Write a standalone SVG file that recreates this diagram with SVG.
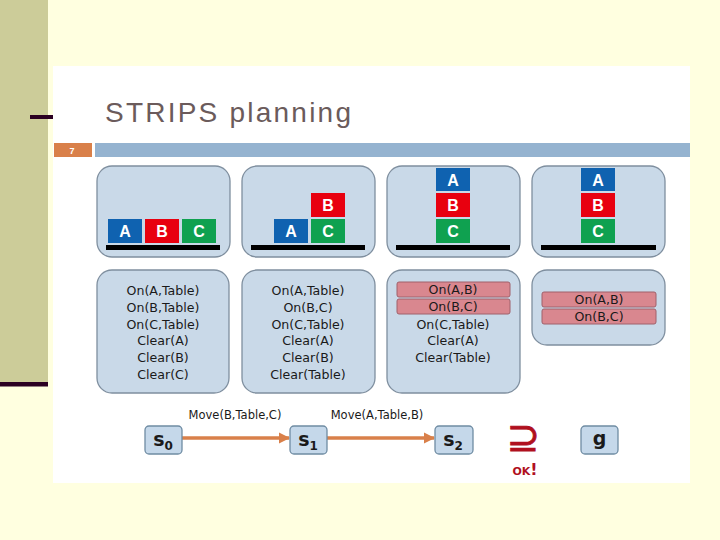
<svg xmlns="http://www.w3.org/2000/svg" width="720" height="540" viewBox="0 0 720 540">
<defs>
<style>
.panel{fill:#c9d9e8;stroke:#7f8f9f;stroke-width:1.3}
.blk{stroke:none}
.bA{fill:#0f62b0}.bB{fill:#e8000f}.bC{fill:#0fa150}
.bl{font-family:"Liberation Sans",Arial,sans-serif;font-weight:bold;font-size:16px;fill:#fff;text-anchor:middle}
.tbl{fill:#000}
.fact{font-family:"DejaVu Sans","Liberation Sans",sans-serif;font-size:12.6px;fill:#1a1a1a;text-anchor:middle}
.goal{fill:#d9878f;stroke:#a0606a;stroke-width:1}
.st{fill:#c5d8ea;stroke:#6f8ca3;stroke-width:1.3}
.sl{font-family:"DejaVu Sans",Verdana,sans-serif;font-weight:bold;font-size:19px;fill:#1a1a1a;text-anchor:middle}
.mv{font-family:"DejaVu Sans","Liberation Sans",sans-serif;font-size:11.5px;fill:#1a1a1a;text-anchor:middle}
.arr{stroke:#d9804a;stroke-width:3.5;fill:none}
</style>
<marker id="ah" viewBox="0 0 10 10" refX="9" refY="5" markerWidth="3.2" markerHeight="3.4" orient="auto" markerUnits="strokeWidth">
<path d="M0,0 L10,5 L0,10 z" fill="#d9804a"/>
</marker>
</defs>
<rect x="0" y="0" width="720" height="540" fill="#ffffe0"/>
<rect x="0" y="0" width="48" height="382" fill="#cccc99"/>
<rect x="0" y="382" width="48" height="4.5" fill="#2b0022"/>
<rect x="30" y="115" width="23" height="4" fill="#2b0022"/>
<rect x="53" y="66" width="637" height="417" fill="#ffffff"/>
<text x="105" y="122" font-family="'Liberation Sans',Arial,sans-serif" font-size="28" fill="#6b5b5b" textLength="246" lengthAdjust="spacing">STRIPS planning</text>
<rect x="54" y="143" width="38" height="14" fill="#d9804a"/>
<text x="72" y="153.5" font-family="'Liberation Sans',Arial,sans-serif" font-size="9" font-weight="bold" fill="#ffffff" text-anchor="middle">7</text>
<rect x="95" y="143" width="595" height="14" fill="#95b3d0"/>

<g id="state0-blocks">
<rect class="panel" x="97" y="166" width="133" height="91" rx="15"/>
<rect class="blk bA" x="108" y="219" width="34" height="24"/><text class="bl" x="125" y="237">A</text>
<rect class="blk bB" x="145" y="219" width="34" height="24"/><text class="bl" x="162" y="237">B</text>
<rect class="blk bC" x="182" y="219" width="34" height="24"/><text class="bl" x="199" y="237">C</text>
<rect class="tbl" x="106" y="245" width="114" height="5"/>
</g>
<g id="state1-blocks">
<rect class="panel" x="242" y="166" width="133" height="91" rx="15"/>
<rect class="blk bA" x="274" y="219" width="34" height="24"/><text class="bl" x="291" y="237">A</text>
<rect class="blk bB" x="311" y="193" width="34" height="24"/><text class="bl" x="328" y="211">B</text>
<rect class="blk bC" x="311" y="219" width="34" height="24"/><text class="bl" x="328" y="237">C</text>
<rect class="tbl" x="251" y="245" width="114" height="5"/>
</g>
<g id="state2-blocks">
<rect class="panel" x="387" y="166" width="133" height="91" rx="15"/>
<rect class="blk bA" x="436" y="168" width="34" height="23"/><text class="bl" x="453" y="185.5">A</text>
<rect class="blk bB" x="436" y="193" width="34" height="24"/><text class="bl" x="453" y="211">B</text>
<rect class="blk bC" x="436" y="219" width="34" height="24"/><text class="bl" x="453" y="237">C</text>
<rect class="tbl" x="396" y="245" width="114" height="5"/>
</g>
<g id="goal-blocks">
<rect class="panel" x="532" y="166" width="133" height="91" rx="15"/>
<rect class="blk bA" x="581" y="168" width="34" height="23"/><text class="bl" x="598" y="185.5">A</text>
<rect class="blk bB" x="581" y="193" width="34" height="24"/><text class="bl" x="598" y="211">B</text>
<rect class="blk bC" x="581" y="219" width="34" height="24"/><text class="bl" x="598" y="237">C</text>
<rect class="tbl" x="541" y="245" width="115" height="5"/>
</g>

<g id="state0-facts">
<rect class="panel" x="97" y="270" width="132" height="123" rx="15"/>
<text class="fact" x="163" y="295">On(A,Table)</text>
<text class="fact" x="163" y="312">On(B,Table)</text>
<text class="fact" x="163" y="329">On(C,Table)</text>
<text class="fact" x="163" y="345">Clear(A)</text>
<text class="fact" x="163" y="362">Clear(B)</text>
<text class="fact" x="163" y="379">Clear(C)</text>
</g>
<g id="state1-facts">
<rect class="panel" x="242" y="270" width="133" height="123" rx="15"/>
<text class="fact" x="308" y="295">On(A,Table)</text>
<text class="fact" x="308" y="312">On(B,C)</text>
<text class="fact" x="308" y="329">On(C,Table)</text>
<text class="fact" x="308" y="345">Clear(A)</text>
<text class="fact" x="308" y="362">Clear(B)</text>
<text class="fact" x="308" y="379">Clear(Table)</text>
</g>
<g id="state2-facts">
<rect class="panel" x="387" y="270" width="133" height="123" rx="15"/>
<rect class="goal" x="397" y="282" width="113" height="15" rx="2"/>
<rect class="goal" x="397" y="299" width="113" height="15" rx="2"/>
<text class="fact" x="453" y="294">On(A,B)</text>
<text class="fact" x="453" y="311">On(B,C)</text>
<text class="fact" x="453" y="329">On(C,Table)</text>
<text class="fact" x="453" y="345">Clear(A)</text>
<text class="fact" x="453" y="362">Clear(Table)</text>
</g>
<g id="goal-facts">
<rect class="panel" x="532" y="270" width="133" height="75" rx="15"/>
<rect class="goal" x="542" y="292" width="114" height="15" rx="2"/>
<rect class="goal" x="542" y="309" width="114" height="15" rx="2"/>
<text class="fact" x="599" y="304">On(A,B)</text>
<text class="fact" x="599" y="321">On(B,C)</text>
</g>

<g id="connectors">
<line class="arr" x1="182" y1="438" x2="289" y2="438" marker-end="url(#ah)"/>
<line class="arr" x1="327" y1="438" x2="434" y2="438" marker-end="url(#ah)"/>
<text class="mv" x="235" y="419">Move(B,Table,C)</text>
<text class="mv" x="377" y="419">Move(A,Table,B)</text>
</g>

<g id="s0">
<rect class="st" x="145" y="426" width="37" height="28" rx="4"/>
<text class="sl" x="163" y="446">s<tspan font-size="12" dy="4">0</tspan></text>
</g>
<g id="s1">
<rect class="st" x="290" y="426" width="37" height="28" rx="4"/>
<text class="sl" x="308" y="446">s<tspan font-size="12" dy="4">1</tspan></text>
</g>
<g id="s2">
<rect class="st" x="435" y="426" width="38" height="28" rx="4"/>
<text class="sl" x="453" y="446">s<tspan font-size="12" dy="4">2</tspan></text>
</g>
<g id="g">
<rect class="st" x="581" y="426" width="37" height="28" rx="4"/>
<text class="sl" x="599.5" y="445">g</text>
</g>
<g id="superset">
<text x="523" y="451" font-family="'DejaVu Sans',sans-serif" font-size="40" fill="#b0101e" stroke="#b0101e" stroke-width="0.8" text-anchor="middle">⊇</text>
<text x="525" y="475" font-family="'DejaVu Sans',Verdana,sans-serif" font-size="16" font-weight="bold" font-variant="small-caps" fill="#b0101e" text-anchor="middle">ok!</text>
</g>
</svg>
